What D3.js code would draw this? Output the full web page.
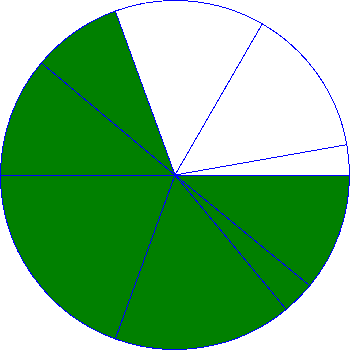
<!DOCTYPE html>
<html>
<head>
<meta charset="utf-8">
<script src="https://cdn.jsdelivr.net/npm/d3@7"></script>
<style>
  html, body { margin: 0; padding: 0; background: #fff; }
  svg { display: block; }
</style>
</head>
<body>
<svg id="chart" width="350" height="350"></svg>
<script>
// Data (slice sizes in degrees-equivalent units)
const categories = ["A", "B", "C", "D", "E", "F", "G", "H", "I"];
const values = [39.4, 11, 59.6, 70, 40, 30, 50, 50, 10];
const filledCategories = ["A", "B", "C", "D", "E", "F"];

const W = 350, H = 350;
const cx = 175, cy = 175, R = 174.5;

const svg = d3.select("#chart");
const g = svg.append("g").attr("transform", `translate(${cx},${cy})`);

const fill = d3.scaleOrdinal()
  .domain(categories)
  .range(categories.map(c => filledCategories.includes(c) ? "#008000" : "#ffffff"));

const pie = d3.pie()
  .sort(null)
  .value(d => d.value)
  .startAngle(Math.PI / 2)
  .endAngle(Math.PI / 2 + 2 * Math.PI);

const arc = d3.arc().innerRadius(0).outerRadius(R);

const data = categories.map((c, i) => ({ cat: c, value: values[i] }));

g.selectAll("path")
  .data(pie(data))
  .join("path")
  .attr("d", arc)
  .attr("fill", d => fill(d.data.cat))
  .attr("stroke", "#0000ff")
  .attr("stroke-width", 1)
  .attr("shape-rendering", "crispEdges");
</script>
</body>
</html>
